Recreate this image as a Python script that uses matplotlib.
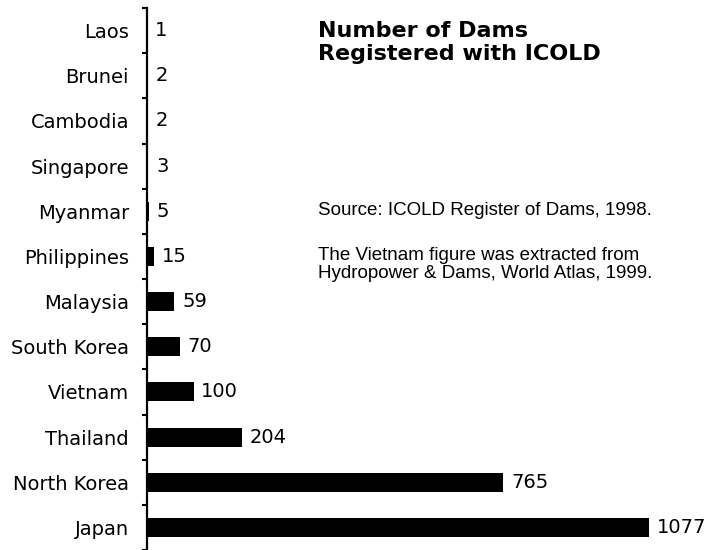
import matplotlib
matplotlib.use("Agg")
import matplotlib.pyplot as plt
import numpy as np

countries = ["Laos", "Brunei", "Cambodia", "Singapore", "Myanmar", "Philippines",
             "Malaysia", "South Korea", "Vietnam", "Thailand", "North Korea", "Japan"]
dams = [1, 2, 2, 3, 5, 15, 59, 70, 100, 204, 765, 1077]

title_lines = ["Number of Dams", "Registered with ICOLD"]
note_lines = ["Source: ICOLD Register of Dams, 1998.",
              "The Vietnam figure was extracted from",
              "Hydropower & Dams, World Atlas, 1999."]

W, H = 709, 550
fig = plt.figure(figsize=(W / 100, H / 100), dpi=100)
fig.patch.set_facecolor("white")

ax = fig.add_axes([147 / W, 0.0, (W - 147) / W, 1 - 8 / H])
y = np.arange(len(countries))
ax.barh(y, dams, height=0.42, color="black", edgecolor="none")
ax.set_ylim(len(countries) - 0.5, -0.5)
ax.set_xlim(0, (W - 147) / 0.466)

for s in ["top", "right", "bottom"]:
    ax.spines[s].set_visible(False)
ax.spines["left"].set_linewidth(1.6)
ax.spines["left"].set_color("black")

ax.set_xticks([])
ax.set_yticks(y)
ax.set_yticklabels(countries, fontsize=14, family="DejaVu Sans")
ax.tick_params(axis="y", which="major", length=0, pad=13)
ax.set_yticks(np.arange(-0.5, len(countries) + 0.5, 1), minor=True)
ax.tick_params(axis="y", which="minor", length=3.5, width=1.5, direction="out", color="black")

for yi, v in zip(y, dams):
    ax.annotate(str(v), xy=(v, yi), xytext=(5.5, 0), textcoords="offset points",
                va="center", ha="left", fontsize=14, family="DejaVu Sans")

# Title
for i, line in enumerate(title_lines):
    fig.text(318 / W, 1 - (37 + 23 * i) / H, line, fontsize=16, fontweight="bold",
             family="DejaVu Sans", va="baseline", ha="left")

# Notes
note_base = [215, 260, 278]
for line, b in zip(note_lines, note_base):
    fig.text(318 / W, 1 - b / H, line, fontsize=13.5, family="Liberation Sans",
             va="baseline", ha="left")

fig.savefig("out.png", dpi=100, facecolor="white")
